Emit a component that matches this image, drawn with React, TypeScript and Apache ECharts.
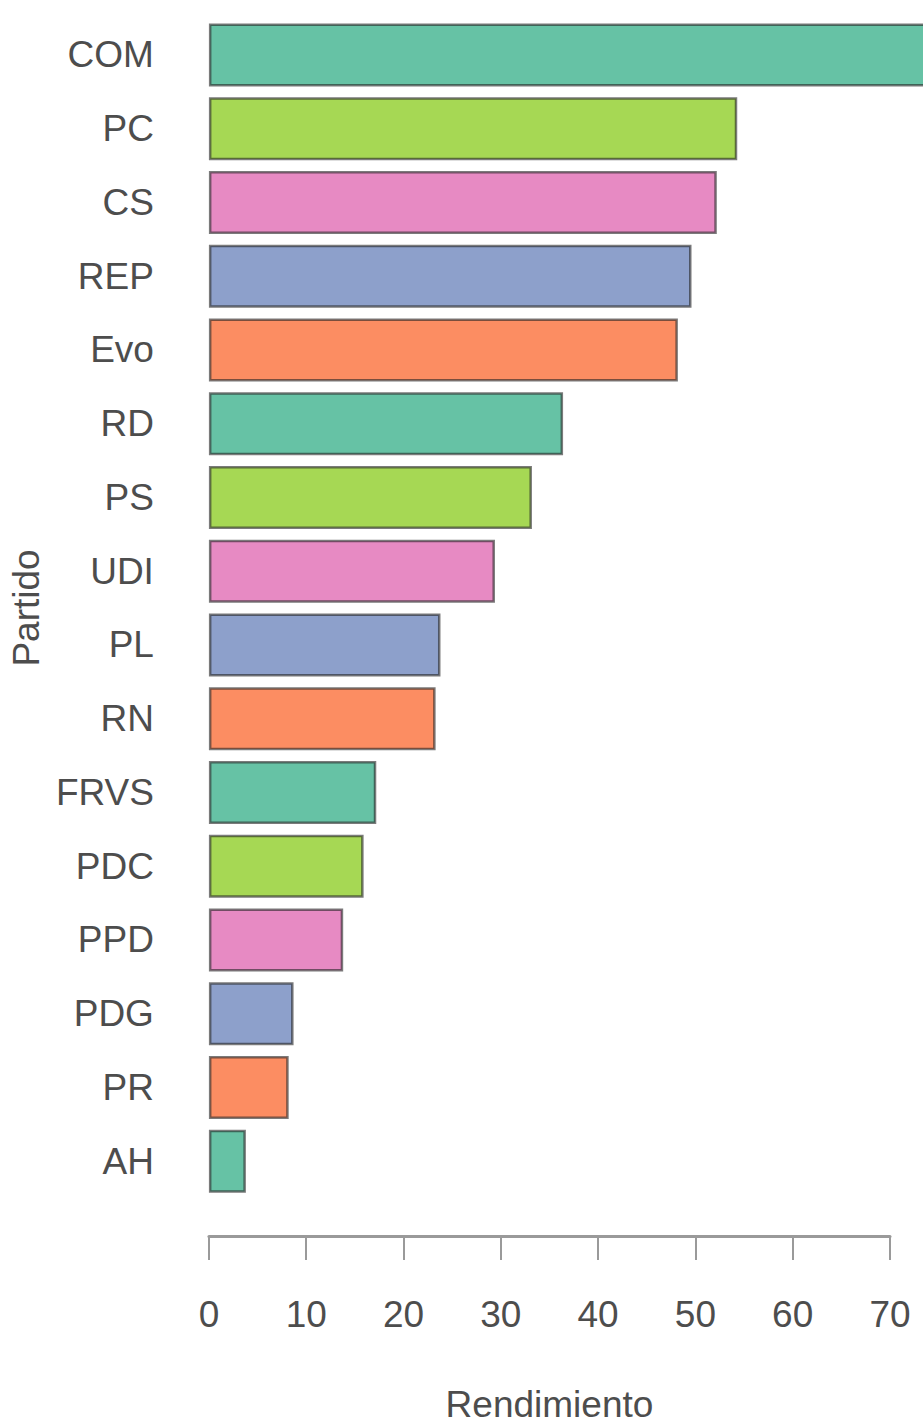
import React, { useEffect, useRef } from "react";
import * as echarts from "echarts";

// bottom-to-top order (as drawn by R's horizontal barplot)
const partidos = ["AH", "PR", "PDG", "PPD", "PDC", "FRVS", "RN", "PL", "UDI", "PS", "RD", "Evo", "REP", "CS", "PC", "COM"];
const rendimiento = [3.8, 8.2, 8.7, 13.8, 15.9, 17.2, 23.3, 23.8, 29.4, 33.2, 36.4, 48.2, 49.6, 52.2, 54.3, 76];
const palette = ["#66C2A5", "#FC8D62", "#8DA0CB", "#E78AC3", "#A6D854"];
const xTicks = [0, 10, 20, 30, 40, 50, 60, 70];

const FONT = "'Liberation Sans', Arial, Helvetica, sans-serif";
const TXT = "#4d4d4d";

export default function App() {
  const ref = useRef<HTMLDivElement>(null);
  useEffect(() => {
    if (!ref.current) return;
    const chart = echarts.init(ref.current, null, { renderer: "svg" });
    chart.setOption({
      animation: false,
      backgroundColor: "#ffffff",
      grid: { left: 207, right: 33, top: 18, height: 1192, containLabel: false },
      xAxis: {
        type: "value",
        min: xTicks[0],
        max: xTicks[xTicks.length - 1],
        interval: 10,
        offset: 38,
        splitLine: { show: false },
        axisLine: { show: true, lineStyle: { color: "#9a9a9a", width: 3 } },
        axisTick: { show: true, length: 24, lineStyle: { color: "#9a9a9a", width: 2 } },
        axisLabel: { color: TXT, fontSize: 37, fontFamily: FONT, margin: 60 },
        name: "Rendimiento",
        nameLocation: "middle",
        nameGap: 150,
        nameTextStyle: { color: TXT, fontSize: 37, fontFamily: FONT, verticalAlign: "top" },
      },
      yAxis: {
        type: "category",
        data: partidos,
        axisLine: { show: false },
        axisTick: { show: false },
        splitLine: { show: false },
        axisLabel: { color: TXT, fontSize: 37, fontFamily: FONT, margin: 55 },
        name: "Partido",
        nameLocation: "middle",
        nameGap: 142,
        nameTextStyle: { color: TXT, fontSize: 37, fontFamily: FONT },
      },
      series: [
        {
          type: "bar",
          data: rendimiento.map((v, i) => ({
            value: v,
            itemStyle: { color: palette[i % palette.length] },
          })),
          barWidth: 63,
          clip: false,
          itemStyle: { borderColor: "rgba(35,35,35,0.6)", borderWidth: 2.5 },
        },
      ],
    });
    return () => chart.dispose();
  }, []);
  return (
    <div
      ref={ref}
      style={{ position: "fixed", left: 0, top: 0, width: 923, height: 1428, background: "#fff" }}
    />
  );
}
